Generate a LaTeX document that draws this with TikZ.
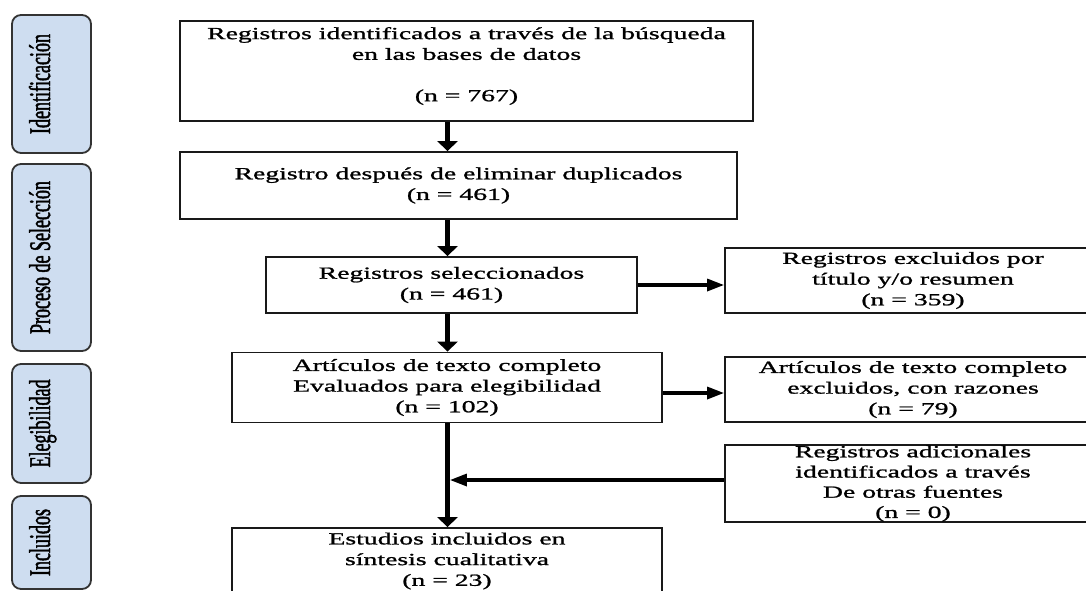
\documentclass[tikz,border=0pt]{standalone}
\usepackage{fontspec}
\setmainfont{Liberation Serif}[FakeStretch=1.63,FakeBold=1.2]
\newfontfamily\barfont{Liberation Serif}[FakeStretch=0.6,FakeBold=1.5]
\usetikzlibrary{arrows.meta}
\begin{document}
\begin{tikzpicture}[x=1pt,y=-1pt,
  box/.style={draw=black!90, line width=1.8pt, align=center, inner sep=0pt,
    font=\fontsize{17}{20.7}\selectfont},
  txt/.style={align=center, inner sep=0pt, font=\fontsize{17}{20.7}\selectfont},
  bar/.style={draw=black!80, line width=1.8pt, rounded corners=9pt,
    fill={rgb,255:red,206;green,221;blue,240},
    inner sep=0pt, minimum width=79pt},
  bartext/.style={rotate=90, inner sep=0pt, text height=20pt, text depth=0pt,
    font=\barfont\fontsize{30}{30}\selectfont},
  varrow/.style={line width=4.8pt, -{Triangle[length=10pt,width=20pt]}},
  harrow/.style={line width=3.2pt, -{Triangle[length=17pt,width=12pt]}},
]
\useasboundingbox (0,0) rectangle (1086,590);

% side bars
\node[bar, minimum height=138pt] (s1) at (51.5,84) {};
\node[bartext] (s1t) at ([xshift=-11.5pt]s1.center) {Identificación};
\node[bar, minimum height=187pt] (s2) at (51.5,257.5) {};
\node[bartext] (s2t) at ([xshift=-11.5pt]s2.center) {Proceso de Selección};
\node[bar, minimum height=119pt] (s3) at (51.5,423.5) {};
\node[bartext] (s3t) at ([xshift=-11.5pt]s3.center) {Elegibilidad};
\node[bar, minimum height=93pt] (s4) at (51.5,542.5) {};
\node[bartext] (s4t) at ([xshift=-11.5pt]s4.center) {Incluidos};

% main column
\node[box, minimum width=573pt, minimum height=100pt] (b1) at (466.5,71) {};
\node[txt] (b1t) at ([yshift=5pt]b1.center)
  {Registros identificados a través de la búsqueda\\en las bases de datos\\[20.7pt](n = 767)};
\node[box, minimum width=557pt, minimum height=67pt] (b2) at (458.5,185.5)
  {Registro después de eliminar duplicados\\(n = 461)};
\node[box, minimum width=371pt, minimum height=56pt] (b3) at (451.5,285)
  {Registros seleccionados\\(n = 461)};
\node[box, minimum width=430pt, minimum height=70pt] (b4) at (447,387.5)
  {Artículos de texto completo\\Evaluados para elegibilidad\\(n = 102)};
\node[box, minimum width=430pt, minimum height=66pt] (b6) at (447,561)
  {Estudios incluidos en\\síntesis cualitativa\\(n = 23)};

% right column
\node[box, minimum width=376pt, minimum height=65pt] (e1) at (913,280.5)
  {Registros excluidos por\\título y/o resumen\\(n = 359)};
\node[box, minimum width=376pt, minimum height=65pt] (e2) at (913,389.5)
  {Artículos de texto completo\\excluidos, con razones\\(n = 79)};
\node[box, minimum width=376pt, minimum height=77pt,
  font=\fontsize{17}{20.2}\selectfont] (e3) at (913,483.5)
  {Registros adicionales\\identificados a través\\De otras fuentes\\(n = 0)};

% connectors
\coordinate (ax) at (447.5,0);
\draw[varrow] (b1.south -| ax) -- (b2.north -| ax);
\draw[varrow] (b2.south -| ax) -- (b3.north -| ax);
\draw[varrow] (b3.south -| ax) -- (b4.north -| ax);
\draw[varrow] (b4.south -| ax) -- (b6.north -| ax);
\draw[harrow] (b3.east) -- (b3.east -| e1.west);
\draw[harrow] ([yshift=-5.5pt]b4.east) -- ([yshift=-5.5pt]b4.east -| e2.west);
\draw[harrow] ([yshift=3.5pt]e3.west) -- ([yshift=3.5pt,xshift=2.4pt]e3.west -| ax);
\end{tikzpicture}
\end{document}
